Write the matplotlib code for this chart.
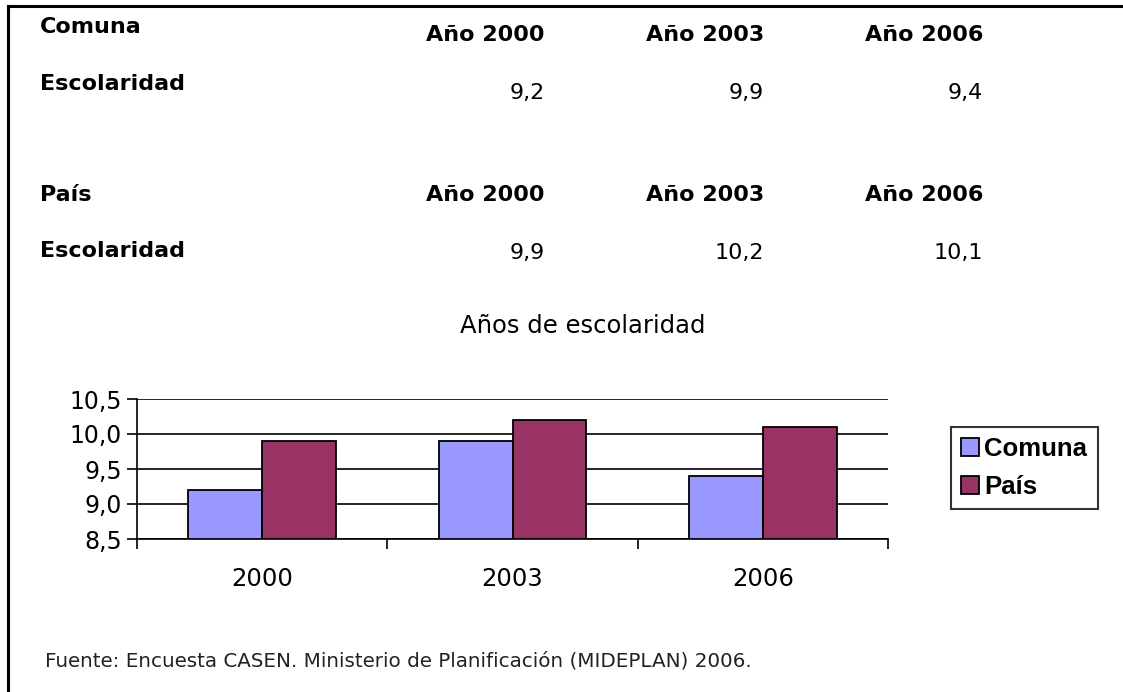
import matplotlib.pyplot as plt
from matplotlib.lines import Line2D
import numpy as np

# datos
years = ['2000', '2003', '2006']
headers = ['Año 2000', 'Año 2003', 'Año 2006']
comuna = [9.2, 9.9, 9.4]
pais = [9.9, 10.2, 10.1]
yticks = [8.5, 9.0, 9.5, 10.0, 10.5]

W, H = 1123, 692
fig = plt.figure(figsize=(W / 100, H / 100), dpi=100)


def fx(px):
    return px / W


def fy(py):
    return 1 - py / H


def coma(v):
    return f"{v:.1f}".replace('.', ',')


# borde de la página (arriba e izquierda)
fig.add_artist(Line2D([fx(8), 1], [fy(6), fy(6)], color='black', lw=2.2))
fig.add_artist(Line2D([fx(8), fx(8)], [fy(6), 0], color='black', lw=2.2))

# tabla de texto
fs_tab = 16
col_right = [545, 764, 983]
rows = [('Comuna', comuna, 27, 35, 84, 93),
        ('País', pais, 195, 195, 251, 253)]
for name, vals, y_name, y_head, y_lab, y_val in rows:
    fig.text(fx(40), fy(y_name), name, fontsize=fs_tab, fontweight='bold',
             ha='left', va='center')
    for xr, h in zip(col_right, headers):
        fig.text(fx(xr), fy(y_head), h, fontsize=fs_tab, fontweight='bold',
                 ha='right', va='center')
    fig.text(fx(40), fy(y_lab), 'Escolaridad', fontsize=fs_tab,
             fontweight='bold', ha='left', va='center')
    for xr, v in zip(col_right, vals):
        fig.text(fx(xr), fy(y_val), coma(v), fontsize=fs_tab,
                 ha='right', va='center')

# título del gráfico
fs_chart = 17.5
fig.text(fx(583), fy(326), 'Años de escolaridad', fontsize=fs_chart,
         ha='center', va='center')

# gráfico de barras
left, right, top, bottom = 137, 888, 399, 539
ax = fig.add_axes([fx(left), fy(bottom), fx(right) - fx(left), (bottom - top) / H])
x = np.arange(len(years))
bw = 0.295
ax.bar(x - bw / 2, [v - 8.5 for v in comuna], bw, bottom=8.5,
       color='#9999FF', edgecolor='black', lw=1.3, label='Comuna', zorder=3)
ax.bar(x + bw / 2, [v - 8.5 for v in pais], bw, bottom=8.5,
       color='#993366', edgecolor='black', lw=1.3, label='País', zorder=3)

ax.set_xlim(-0.5, len(years) - 0.5)
ax.set_ylim(8.5, 10.5)
ax.set_yticks(yticks)
ax.set_yticklabels([coma(v) for v in yticks], fontsize=17)
ax.set_xticks(x)
ax.set_xticklabels(years, fontsize=fs_chart)
ax.tick_params(axis='x', length=0, pad=20)
ax.set_xticks(np.arange(len(years) + 1) - 0.5, minor=True)
ax.tick_params(axis='x', which='minor', length=7, width=1.2, direction='out')
ax.tick_params(axis='y', length=7, width=1.2, direction='out', pad=4)
ax.yaxis.grid(True, color='black', lw=1.2, zorder=0)
ax.set_axisbelow(True)
for s in ['top', 'right']:
    ax.spines[s].set_visible(False)
for s in ['left', 'bottom']:
    ax.spines[s].set_linewidth(1.2)

leg = fig.legend(*ax.get_legend_handles_labels(), loc='center left',
                 bbox_to_anchor=(fx(951), fy(468)),
                 frameon=True, fancybox=False, edgecolor='black',
                 prop={'family': 'Liberation Sans', 'weight': 'bold', 'size': 18.5},
                 handlelength=0.7, handleheight=0.7, handletextpad=0.2,
                 borderpad=0.4, labelspacing=0.55, borderaxespad=0)
leg.get_frame().set_linewidth(1.5)

# fuente
fig.text(fx(45), fy(661), 'Fuente: Encuesta CASEN. Ministerio de Planificación (MIDEPLAN) 2006.',
         fontsize=14.3, ha='left', va='center', color='#222222')

fig.savefig('out.png', dpi=100)
